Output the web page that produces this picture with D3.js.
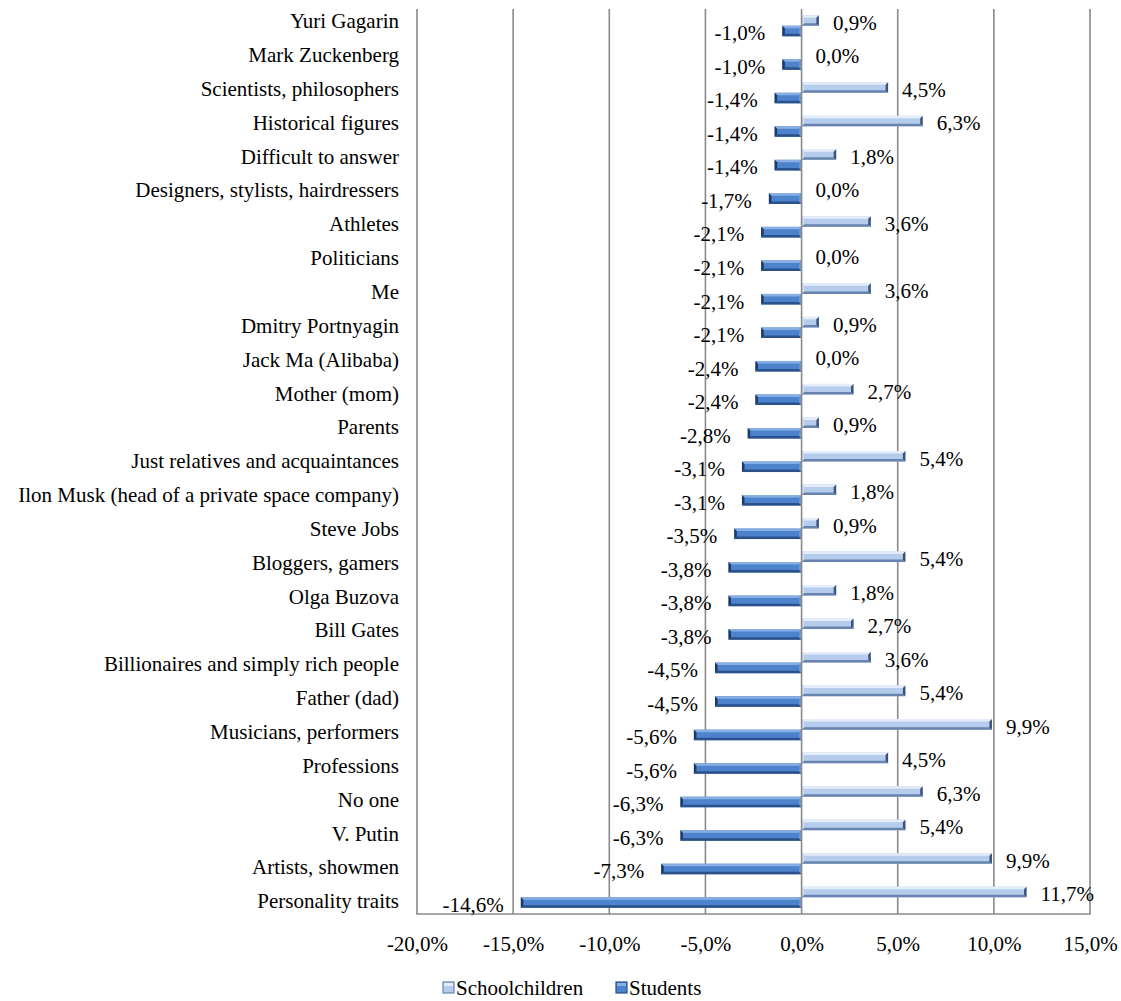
<!DOCTYPE html>
<html><head><meta charset="utf-8">
<script src="https://cdn.jsdelivr.net/npm/d3@7/dist/d3.min.js"></script>
<style>
body{margin:0;background:#fff;}
text{font-family:"Liberation Serif","Times New Roman",serif;fill:#000;}
</style></head>
<body><svg id="chart" width="1121" height="1001"></svg>
<script>
const categories = ["Yuri Gagarin","Mark Zuckenberg","Scientists, philosophers","Historical figures","Difficult to answer","Designers, stylists, hairdressers","Athletes","Politicians","Me","Dmitry Portnyagin","Jack Ma (Alibaba)","Mother (mom)","Parents","Just relatives and acquaintances","Ilon Musk (head of a private space company)","Steve Jobs","Bloggers, gamers","Olga Buzova","Bill Gates","Billionaires and simply rich people","Father (dad)","Musicians, performers","Professions","No one","V. Putin","Artists, showmen","Personality traits"];
const schoolchildren = [0.9,0.0,4.5,6.3,1.8,0.0,3.6,0.0,3.6,0.9,0.0,2.7,0.9,5.4,1.8,0.9,5.4,1.8,2.7,3.6,5.4,9.9,4.5,6.3,5.4,9.9,11.7];
const students = [-1.0,-1.0,-1.4,-1.4,-1.4,-1.7,-2.1,-2.1,-2.1,-2.1,-2.4,-2.4,-2.8,-3.1,-3.1,-3.5,-3.8,-3.8,-3.8,-4.5,-4.5,-5.6,-5.6,-6.3,-6.3,-7.3,-14.6];
const seriesNames = ["Schoolchildren","Students"];
const xTicks = [-20,-15,-10,-5,0,5,10,15];

const FS = "21px";
const svg = d3.select("#chart");

const palette = {
  Schoolchildren: {mid:"#b5cced", top:"#e4edf9", bottom:"#6884ae", end:"#3c5378", start:"#cfdff3"},
  Students:       {mid:"#4d83cc", top:"#88afe4", bottom:"#2a518a", end:"#1c3963", start:"#6b98d6"}
};

const x = d3.scaleLinear().domain([-20,15]).range([417,1090]);
const y = d3.scaleBand().domain(categories).range([9,914]).paddingInner(0.37).paddingOuter(0.185);
const yLab = d3.scaleBand().domain(categories).range([4.5,918.5]);
const ys = d3.scaleBand().domain(seriesNames).range([0,y.bandwidth()]);
const fmt = v => v.toFixed(1).replace(".",",") + "%";

// gridlines
svg.append("g").selectAll("line").data(xTicks.filter(t=>t!==0)).join("line")
  .attr("x1",d=>x(d)).attr("x2",d=>x(d)).attr("y1",9).attr("y2",914)
  .attr("stroke","#8a8a8a").attr("stroke-width",1.6);
svg.append("line").attr("x1",x(-20)-0.8).attr("x2",x(15)+0.8).attr("y1",914).attr("y2",914)
  .attr("stroke","#8a8a8a").attr("stroke-width",1.6);

// x axis labels
const xAxis = d3.axisBottom(x).tickValues(xTicks).tickFormat(fmt).tickSize(0).tickPadding(22);
const xg = svg.append("g").attr("transform","translate(0,914)").call(xAxis);
xg.select(".domain").remove();
xg.selectAll("text").style("font-size",FS).style("font-family","Liberation Serif");

// category labels
const yAxis = d3.axisLeft(yLab).tickSize(0).tickPadding(0);
const yg = svg.append("g").attr("transform","translate(399,0)").call(yAxis);
yg.select(".domain").remove();
yg.selectAll("text").style("font-size",FS).style("font-family","Liberation Serif");

const data = categories.map((c,i)=>({c, vals:[{s:"Schoolchildren",v:schoolchildren[i]},{s:"Students",v:students[i]}]}));

const rows = svg.append("g").selectAll("g").data(data).join("g")
  .attr("transform",d=>`translate(0,${y(d.c)})`);

const bars = rows.selectAll("g.bar").data(d=>d.vals).join("g").attr("class","bar");
const B = 2.5;
function geo(d){
  const a = x(0), e = x(d.v), y0 = ys(d.s), h = ys.bandwidth();
  const dir = d.v>0 ? 1 : -1;
  return {a,e,y0,h,dir};
}
const nz = bars.filter(d=>d.v!==0);
nz.append("rect")
  .attr("x",d=>Math.min(x(0),x(d.v))).attr("width",d=>Math.abs(x(d.v)-x(0)))
  .attr("y",d=>ys(d.s)).attr("height",ys.bandwidth())
  .attr("fill",d=>palette[d.s].mid);
nz.append("path").attr("fill",d=>palette[d.s].top).attr("d",d=>{
  const g=geo(d);
  return `M${g.a},${g.y0}L${g.e},${g.y0}L${g.e-g.dir*B},${g.y0+B}L${g.a+g.dir*B},${g.y0+B}Z`;
});
nz.append("path").attr("fill",d=>palette[d.s].bottom).attr("d",d=>{
  const g=geo(d);
  return `M${g.a},${g.y0+g.h}L${g.e},${g.y0+g.h}L${g.e-g.dir*B},${g.y0+g.h-B}L${g.a+g.dir*B},${g.y0+g.h-B}Z`;
});
nz.append("path").attr("fill",d=>palette[d.s].start).attr("d",d=>{
  const g=geo(d);
  return `M${g.a},${g.y0}L${g.a},${g.y0+g.h}L${g.a+g.dir*B},${g.y0+g.h-B}L${g.a+g.dir*B},${g.y0+B}Z`;
});
nz.append("path").attr("fill",d=>palette[d.s].end).attr("d",d=>{
  const g=geo(d);
  return `M${g.e},${g.y0}L${g.e},${g.y0+g.h}L${g.e-g.dir*B},${g.y0+g.h-B}L${g.e-g.dir*B},${g.y0+B}Z`;
});

// zero axis line
svg.append("line").attr("x1",x(0)).attr("x2",x(0)).attr("y1",9).attr("y2",914)
  .attr("stroke","#8a8a8a").attr("stroke-width",1.6);

// value labels
bars.append("text")
  .attr("x",d=>d.v>=0 ? x(d.v)+14 : x(d.v)-17)
  .attr("y",d=>ys(d.s)+ys.bandwidth()/2+2)
  .attr("dy","0.35em")
  .attr("text-anchor",d=>d.v>=0?"start":"end")
  .style("font-size",FS)
  .text(d=>fmt(d.v));

// legend
const legend = svg.append("g").attr("transform","translate(443,988)");
const legItems = [{s:"Schoolchildren",x:0},{s:"Students",x:173}];
const li = legend.selectAll("g").data(legItems).join("g").attr("transform",d=>`translate(${d.x},0)`);
li.append("rect").attr("x",0).attr("y",-6).attr("width",11).attr("height",11)
  .attr("fill",d=>palette[d.s].mid).attr("stroke",d=>palette[d.s].bottom).attr("stroke-width",1.2);
li.append("rect").attr("x",1).attr("y",-5).attr("width",9).attr("height",3).attr("fill",d=>palette[d.s].top);
li.append("text").attr("x",13).attr("y",0).attr("dy","0.35em").style("font-size",FS).text(d=>d.s);
</script></body></html>
